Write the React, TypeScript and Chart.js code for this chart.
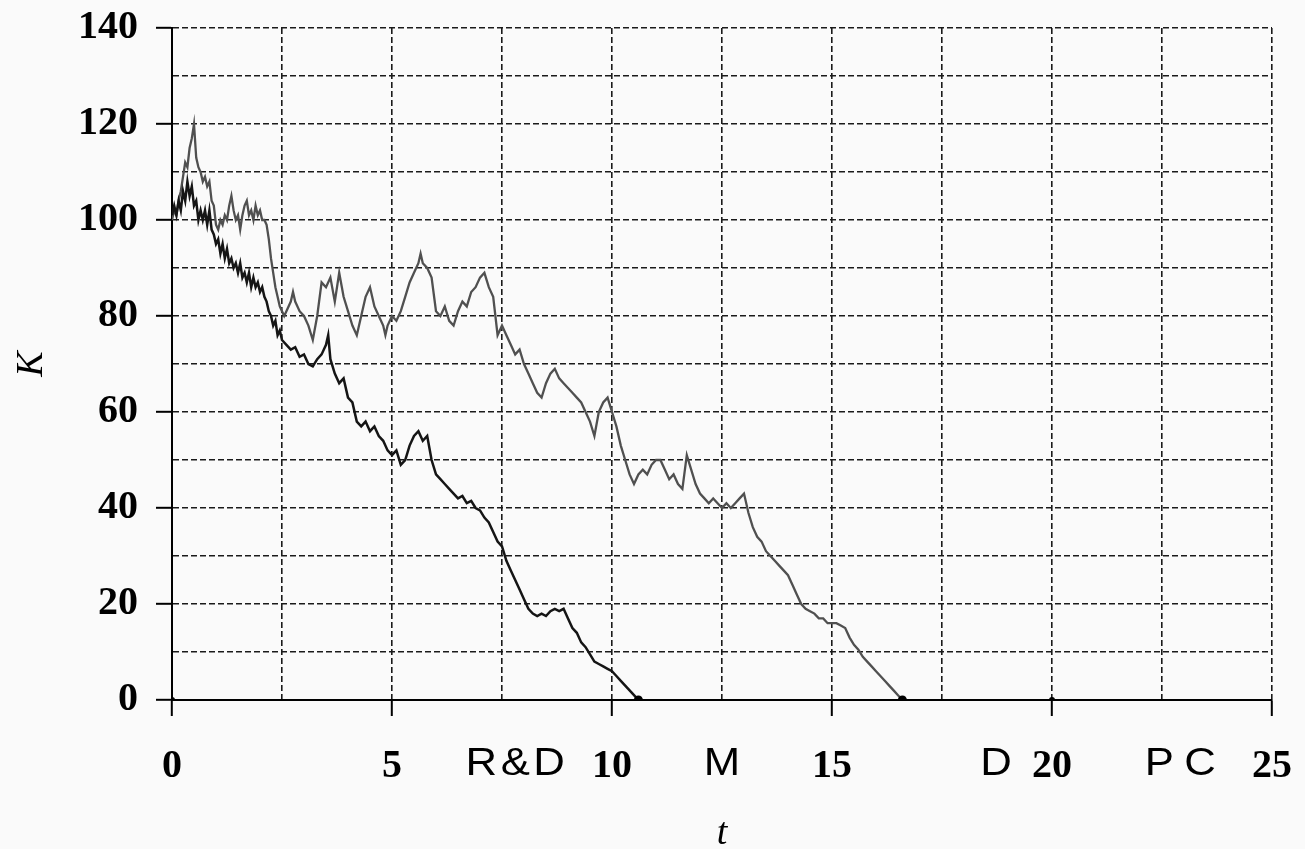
import React, { useEffect, useRef } from 'react';
import { Chart, registerables } from 'chart.js';

Chart.register(...registerables);

// [t, K] samples
const darkPath: [number, number][] = [
  [0, 101], [0.05, 103], [0.1, 101], [0.15, 104], [0.2, 102], [0.25, 106], [0.3, 104], [0.35, 108], [0.4, 105], [0.45, 107],
  [0.5, 103], [0.55, 104], [0.6, 100], [0.65, 102], [0.7, 100], [0.75, 102], [0.8, 99], [0.85, 102], [0.9, 98], [0.95, 97],
  [1.0, 95], [1.05, 96], [1.1, 93], [1.15, 95], [1.2, 92], [1.25, 94], [1.3, 91], [1.35, 92], [1.4, 90], [1.45, 91],
  [1.5, 89], [1.55, 91], [1.6, 88], [1.65, 89], [1.7, 87], [1.75, 89], [1.8, 86], [1.85, 88], [1.9, 86], [1.95, 87],
  [2.0, 85], [2.05, 86], [2.1, 84], [2.15, 83], [2.2, 81], [2.25, 80], [2.3, 78], [2.35, 79], [2.4, 76], [2.45, 77],
  [2.5, 75], [2.6, 74], [2.7, 73], [2.8, 73.5], [2.9, 71.5], [3.0, 72], [3.1, 70], [3.2, 69.5], [3.3, 71], [3.4, 72],
  [3.5, 74], [3.55, 76], [3.6, 71], [3.7, 68], [3.8, 66], [3.9, 67], [4.0, 63], [4.1, 62], [4.2, 58], [4.3, 57],
  [4.4, 58], [4.5, 56], [4.6, 57], [4.7, 55], [4.8, 54], [4.9, 52], [5.0, 51], [5.1, 52], [5.2, 49], [5.3, 50],
  [5.4, 53], [5.5, 55], [5.6, 56], [5.7, 54], [5.8, 55], [5.9, 50], [6.0, 47], [6.1, 46], [6.2, 45], [6.3, 44],
  [6.4, 43], [6.5, 42], [6.6, 42.5], [6.7, 41], [6.8, 41.5], [6.9, 40], [7.0, 39.5], [7.1, 38], [7.2, 37], [7.3, 35],
  [7.4, 33], [7.5, 32], [7.6, 29], [7.7, 27], [7.8, 25], [7.9, 23], [8.0, 21], [8.1, 19], [8.2, 18], [8.3, 17.5],
  [8.4, 18], [8.5, 17.5], [8.6, 18.5], [8.7, 19], [8.8, 18.5], [8.9, 19], [9.0, 17], [9.1, 15], [9.2, 14], [9.3, 12],
  [9.4, 11], [9.5, 9.5], [9.6, 8], [9.7, 7.5], [9.8, 7], [9.9, 6.5], [10.0, 6], [10.1, 5], [10.2, 4], [10.3, 3],
  [10.4, 2], [10.5, 1], [10.6, 0],
];

const grayPath: [number, number][] = [
  [0, 100], [0.05, 102], [0.1, 101], [0.15, 104], [0.2, 106], [0.25, 109], [0.3, 112], [0.35, 111], [0.4, 115], [0.45, 117],
  [0.5, 120], [0.55, 113], [0.6, 111], [0.65, 110], [0.7, 108], [0.75, 109], [0.8, 107], [0.85, 108], [0.9, 104], [0.95, 103],
  [1.0, 99], [1.05, 98], [1.1, 100], [1.15, 99], [1.2, 101], [1.25, 100], [1.3, 103], [1.35, 105], [1.4, 102], [1.45, 100],
  [1.5, 101], [1.55, 98], [1.6, 101], [1.65, 103], [1.7, 104], [1.75, 101], [1.8, 102], [1.85, 100], [1.9, 103], [1.95, 101],
  [2.0, 102], [2.05, 100], [2.1, 100], [2.15, 99], [2.2, 96], [2.25, 92], [2.3, 89], [2.35, 86], [2.4, 84], [2.45, 82],
  [2.5, 81], [2.55, 80], [2.6, 81], [2.7, 83], [2.75, 85], [2.8, 83], [2.9, 81], [3.0, 80], [3.1, 78], [3.2, 75],
  [3.3, 80], [3.4, 87], [3.5, 86], [3.6, 88], [3.7, 83], [3.8, 89], [3.9, 84], [4.0, 81], [4.1, 78], [4.2, 76],
  [4.3, 80], [4.4, 84], [4.5, 86], [4.6, 82], [4.7, 80], [4.8, 78], [4.85, 76], [4.9, 78], [5.0, 80], [5.1, 79],
  [5.2, 81], [5.3, 84], [5.4, 87], [5.5, 89], [5.6, 91], [5.65, 93], [5.7, 91], [5.8, 90], [5.9, 88], [6.0, 81],
  [6.1, 80], [6.2, 82], [6.3, 79], [6.4, 78], [6.5, 81], [6.6, 83], [6.7, 82], [6.8, 85], [6.9, 86], [7.0, 88],
  [7.1, 89], [7.2, 86], [7.3, 84], [7.4, 76], [7.5, 78], [7.6, 76], [7.7, 74], [7.8, 72], [7.9, 73], [8.0, 70],
  [8.1, 68], [8.2, 66], [8.3, 64], [8.4, 63], [8.5, 66], [8.6, 68], [8.7, 69], [8.8, 67], [8.9, 66], [9.0, 65],
  [9.1, 64], [9.2, 63], [9.3, 62], [9.4, 60], [9.5, 58], [9.6, 55], [9.7, 60], [9.8, 62], [9.9, 63], [10.0, 60],
  [10.1, 57], [10.2, 53], [10.3, 50], [10.4, 47], [10.5, 45], [10.6, 47], [10.7, 48], [10.8, 47], [10.9, 49], [11.0, 50],
  [11.1, 50], [11.2, 48], [11.3, 46], [11.4, 47], [11.5, 45], [11.6, 44], [11.7, 51], [11.8, 48], [11.9, 45], [12.0, 43],
  [12.1, 42], [12.2, 41], [12.3, 42], [12.4, 41], [12.5, 40], [12.6, 41], [12.7, 40], [12.8, 41], [12.9, 42], [13.0, 43],
  [13.1, 39], [13.2, 36], [13.3, 34], [13.4, 33], [13.5, 31], [13.6, 30], [13.7, 29], [13.8, 28], [13.9, 27], [14.0, 26],
  [14.1, 24], [14.2, 22], [14.3, 20], [14.4, 19], [14.5, 18.5], [14.6, 18], [14.7, 17], [14.8, 17], [14.9, 16], [15.0, 16],
  [15.1, 16], [15.2, 15.5], [15.3, 15], [15.4, 13], [15.5, 11.5], [15.6, 10.5], [15.7, 9], [15.8, 8], [15.9, 7], [16.0, 6],
  [16.1, 5], [16.2, 4], [16.3, 3], [16.4, 2], [16.5, 1], [16.6, 0],
];

const markerT = [0, 10.6, 16.6, 20];
const markerK = [0, 0, 0, 0];

const xGridValues = [0, 2.5, 5, 7.5, 10, 12.5, 15, 17.5, 20, 22.5, 25];
const xTickLabels = [0, 5, 10, 15, 20, 25];
const yTickLabels = [0, 20, 40, 60, 80, 100, 120, 140];

const phaseLabels = ['R&D', 'M', 'D', 'PC'];
const phaseT = [7.8, 12.5, 18.73, 22.93];

const SERIF = '"Liberation Serif", "Times New Roman", serif';
const SANS = '"Liberation Sans", Arial, sans-serif';

const phaseLabelPlugin = {
  id: 'phaseLabels',
  afterDraw(chart: any) {
    const { ctx } = chart;
    const x = chart.scales.x;
    ctx.font = `38px ${SANS}`;
    ctx.fillStyle = '#000';
    ctx.textAlign = 'center';
    ctx.textBaseline = 'alphabetic';
    phaseLabels.forEach((txt, i) => {
      ctx.save();
      (ctx as any).letterSpacing = txt === 'PC' ? '9px' : '3px';
      const cx = x.getPixelForValue(phaseT[i]);
      ctx.translate(cx, 775);
      ctx.scale(1.15, 1);
      ctx.fillText(txt, txt === 'PC' ? 4 : 1.5, 0);
      ctx.restore();
    });
  },
};

export default function App() {
  const canvasRef = useRef<HTMLCanvasElement | null>(null);

  useEffect(() => {
    if (!canvasRef.current) return;
    const gridColor = '#1a1a1a';
    const chart = new Chart(canvasRef.current, {
      type: 'line',
      data: {
        datasets: [
          {
            label: 'ends',
            data: markerT.map((t, i) => ({ x: t, y: markerK[i] })),
            showLine: false,
            pointRadius: [3, 4.5, 4.5, 3],
            pointBackgroundColor: '#000',
            pointBorderWidth: 0,
            order: 0,
          },
          {
            label: 'dark',
            data: darkPath.map(([t, k]) => ({ x: t, y: k })),
            borderColor: '#151515',
            borderWidth: 2.5,
            pointRadius: 0,
            tension: 0,
            order: 1,
          },
          {
            label: 'gray',
            data: grayPath.map(([t, k]) => ({ x: t, y: k })),
            borderColor: '#505050',
            borderWidth: 2.3,
            pointRadius: 0,
            tension: 0,
            order: 2,
          },
        ],
      },
      options: {
        animation: false,
        responsive: true,
        maintainAspectRatio: false,
        layout: { padding: { left: 0, top: 28, right: 33, bottom: 0 } },
        plugins: { legend: { display: false }, tooltip: { enabled: false } },
        scales: {
          x: {
            type: 'linear',
            min: 0,
            max: 25,
            afterBuildTicks: (scale: any) => {
              scale.ticks = xGridValues.map((v) => ({ value: v }));
            },
            afterFit: (scale: any) => {
              scale.height = 149;
              scale.paddingLeft = 0;
              scale.paddingRight = 0;
            },
            ticks: {
              autoSkip: false,
              maxRotation: 0,
              padding: 27,
              color: '#000',
              font: { family: SERIF, size: 40, weight: 'bold' },
              callback: (v: any) => (xTickLabels.includes(Number(v)) ? String(v) : ''),
            },
            grid: {
              color: gridColor,
              lineWidth: 1.6,
              drawTicks: true,
              tickLength: 16,
              tickWidth: 2,
              tickColor: (ctx: any) =>
                ctx.tick && xTickLabels.includes(ctx.tick.value) ? '#000' : 'rgba(0,0,0,0)',
            },
            border: { display: true, color: '#000', width: 2, dash: [6, 3] },
            title: {
              display: true,
              text: 't',
              color: '#000',
              font: { family: SERIF, size: 38, style: 'italic', lineHeight: 1 },
              padding: { top: 0, bottom: -4 },
            },
          },
          y: {
            type: 'linear',
            min: 0,
            max: 140,
            afterBuildTicks: (scale: any) => {
              const t: any[] = [];
              for (let v = 0; v <= 140; v += 10) t.push({ value: v });
              scale.ticks = t;
            },
            afterFit: (scale: any) => {
              scale.width = 172;
              scale.paddingTop = 0;
              scale.paddingBottom = 0;
            },
            ticks: {
              autoSkip: false,
              padding: 18,
              color: '#000',
              font: { family: SERIF, size: 40, weight: 'bold' },
              callback: (v: any) => (yTickLabels.includes(Number(v)) ? String(v) : ''),
            },
            grid: {
              color: gridColor,
              lineWidth: 1.6,
              drawTicks: true,
              tickLength: 16,
              tickWidth: 2,
              tickColor: (ctx: any) =>
                ctx.tick && yTickLabels.includes(ctx.tick.value) ? '#000' : 'rgba(0,0,0,0)',
            },
            border: { display: true, color: '#000', width: 2, dash: [6, 3] },
            title: {
              display: true,
              text: 'K',
              color: '#000',
              font: { family: SERIF, size: 38, style: 'italic', lineHeight: 1.2 },
              padding: { top: 9, bottom: 0 },
            },
          },
        },
      },
      plugins: [phaseLabelPlugin],
    } as any);
    return () => chart.destroy();
  }, []);

  return (
    <div
      style={{
        position: 'fixed',
        left: 0,
        top: 0,
        width: 1305,
        height: 849,
        background: '#fafafa',
      }}
    >
      <canvas ref={canvasRef} />
    </div>
  );
}
